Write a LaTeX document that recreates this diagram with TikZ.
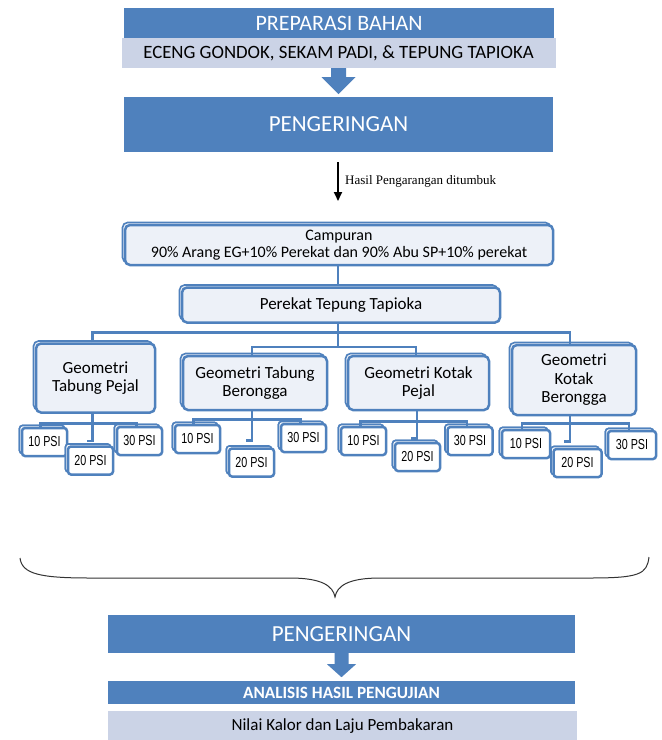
\documentclass[tikz,border=0pt]{standalone}
\usepackage{fontspec}
\setmainfont{Carlito}
\newfontfamily\psifont[FakeStretch=0.74]{Liberation Sans}
\newfontfamily\serifont{Liberation Serif}
\usetikzlibrary{shadows,arrows.meta,calc}
\definecolor{boxblue}{HTML}{4F81BD}
\definecolor{lav}{HTML}{CBD3E6}
\definecolor{pale}{HTML}{EDF1F8}
\tikzset{
  bar/.style={fill=boxblue, text=white, inner sep=0pt},
  band/.style={fill=lav, text=black, inner sep=0pt},
  card/.style={draw=boxblue, line width=2.5pt, fill=pale, rounded corners=5pt, align=center, inner sep=0pt,
    general shadow={shadow xshift=-2.5pt, shadow yshift=2.5pt, draw=boxblue, line width=1.6pt, fill=pale}},
  geo/.style={card, font=\fontsize{17}{18.5}\selectfont},
  psi/.style={card, rounded corners=3pt, fill=white, minimum width=45pt, minimum height=28pt,
    general shadow={shadow xshift=-2.5pt, shadow yshift=2.5pt, draw=boxblue, line width=1.6pt, fill=white},
    font=\psifont\fontsize{14.5}{15}\selectfont},
  link/.style={draw=boxblue, line width=2.5pt},
  blockarrow/.style={fill=boxblue},
}
\begin{document}
\begin{tikzpicture}[x=1pt,y=-1pt]
\fill[white] (0,0) rectangle (662,740);
\useasboundingbox (0,0) rectangle (662,740);

% top part
\node[bar, minimum width=430pt, minimum height=30pt, font=\fontsize{22}{24}\selectfont] (prep) at (339,23) {PREPARASI BAHAN};
\node[band, minimum width=434pt, minimum height=30pt, font=\fontsize{18.8}{22}\selectfont] (eceng) at (338.5,53) {ECENG GONDOK, SEKAM PADI, \& TEPUNG TAPIOKA};
\node[bar, minimum width=429pt, minimum height=55pt, font=\fontsize{23}{26}\selectfont] (peng1) at (338.5,124.5) {PENGERINGAN};
\fill[blockarrow] (eceng.south) ++(-7.5,0) -- ++(15,0) -- ++(0,9) -- ++(9.5,0) -- ++(-17,17) -- ++(-17,-17) -- ++(9.5,0) -- cycle;

\coordinate (a1) at (338,162);
\coordinate (a2) at (338,201);
\draw[line width=2pt, -{Triangle[length=9pt,width=8pt]}] (a1) -- (a2);
\node[anchor=west, inner sep=0pt, font=\serifont\fontsize{13}{15}\selectfont] (lbl) at (345,181) {Hasil Pengarangan ditumbuk};

% mixture
\node[card, minimum width=428pt, minimum height=40pt, font=\fontsize{16}{17.5}\selectfont] (camp) at (339,245) {Campuran\\90\% Arang EG+10\% Perekat dan 90\% Abu SP+10\% perekat};
\node[card, minimum width=318pt, minimum height=35pt, font=\fontsize{17}{20}\selectfont] (perekat) at (341,305) {Perekat Tepung Tapioka};

% geometries
\node[geo, minimum width=119pt, minimum height=69pt] (tp) at (95.5,378) {Geometri\\Tabung Pejal};
\node[geo, minimum width=144pt, minimum height=54pt] (tb) at (255,383) {Geometri Tabung\\Berongga};
\node[geo, minimum width=141pt, minimum height=54pt] (kp) at (418.5,383) {Geometri Kotak\\Pejal};
\node[geo, minimum width=124pt, minimum height=70pt] (kb) at (574,380) {Geometri\\Kotak\\Berongga};

% PSI boxes
\node[psi] (p1a) at (44.5,442) {10 PSI};
\node[psi] (p1b) at (90.5,460.5) {20 PSI};
\node[psi] (p1c) at (139.5,441) {30 PSI};
\node[psi] (p2a) at (197.5,439) {10 PSI};
\node[psi] (p2b) at (251.5,462.5) {20 PSI};
\node[psi] (p2c) at (303.5,438) {30 PSI};
\node[psi] (p3a) at (363.5,441) {10 PSI};
\node[psi] (p3b) at (417.5,457) {20 PSI};
\node[psi] (p3c) at (470,441) {30 PSI};
\node[psi, minimum width=48pt] (p4a) at (526,444) {10 PSI};
\node[psi, minimum width=48pt] (p4b) at (577.5,463) {20 PSI};
\node[psi, minimum width=48pt] (p4c) at (632,445) {30 PSI};

% connectors
\draw[link] (camp.south -| 338,0) -- (perekat.north -| 338,0);
\draw[link] (perekat.south -| 338,0) -- (338,347);
\draw[link] ($(tp.north)+(-3,0)$) -- ($(tp.north)+(-3,-10)$) -| ($(kb.north)+(-4,0)$);
\draw[link] (tb.north -| 252,0) |- (338,347) -| (kp.north -| 416,0);

\draw[link] ($(p1a.north)+(-4,0)$) |- ($(tp.south)+(0,9.5)$) -| ($(p1c.north)+(-3,0)$);
\draw[link] ($(tp.south)+(-3,0)$) -- ++(0,27) -- ++(-6,0);
\draw[link] ($(p2a.north)+(-4,0)$) |- ($(tb.south)+(0,8)$) -| ($(p2c.north)+(-3,0)$);
\draw[link] ($(tb.south)+(-3,0)$) -- ++(0,29) -- ++(-6,0);
\draw[link] ($(p3a.north)+(-3,0)$) |- ($(kp.south)+(0,10)$) -| ($(p3c.north)+(-3,0)$);
\draw[link] ($(kp.south)+(-1.5,0)$) -- ++(0,27) -- ++(-6,0);
\draw[link] ($(p4a.north)+(-4,0)$) |- ($(kb.south)+(0,7)$) -| ($(p4c.north)+(-3,0)$);
\draw[link] ($(kb.south)+(-4,0)$) -- ++(0,25) -- ++(-6,0);

% brace
\draw[line width=1pt, black!80] (20,558) .. controls (22,574) and (40,578) .. (90,578) -- (290,578)
  .. controls (322,578) and (333,586) .. (335,597)
  .. controls (337,586) and (348,578) .. (380,578) -- (590,578)
  .. controls (640,578) and (647,574) .. (649,557);

% bottom part
\node[bar, minimum width=467pt, minimum height=38pt, font=\fontsize{23}{26}\selectfont] (peng2) at (341.5,634) {PENGERINGAN};
\node[bar, minimum width=467pt, minimum height=23pt, font=\bfseries\fontsize{17.2}{18}\selectfont] (anal) at (341.5,692.5) {ANALISIS HASIL PENGUJIAN};
\node[band, minimum width=469pt, minimum height=30pt, font=\fontsize{17}{20}\selectfont] (nilai) at (342.5,726) {Nilai Kalor dan Laju Pembakaran};
\fill[blockarrow] (peng2.south) ++(-7,0) -- ++(14,0) -- ++(0,11) -- ++(7.5,0) -- ++(-14.5,13) -- ++(-14.5,-13) -- ++(7.5,0) -- cycle;
\end{tikzpicture}
\end{document}
